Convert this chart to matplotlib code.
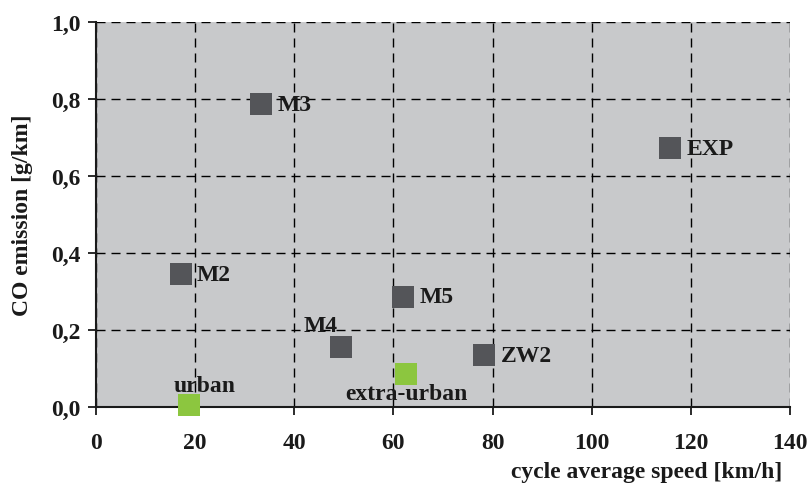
import matplotlib

matplotlib.use("Agg")
import matplotlib.pyplot as plt
from matplotlib.ticker import FuncFormatter

# cycles
cycles = ["M3", "EXP", "M2", "M5", "M4", "ZW2"]
cycle_speed = [33.3, 115.8, 17.1, 61.9, 49.5, 78.3]
cycle_co = [0.786, 0.672, 0.345, 0.286, 0.155, 0.135]

# test cycles (green)
tests = ["urban", "extra-urban"]
test_speed = [18.8, 62.6]
test_co = [0.005, 0.086]

x_ticks = [0, 20, 40, 60, 80, 100, 120, 140]
y_ticks = [0.0, 0.2, 0.4, 0.6, 0.8, 1.0]

# label offsets in points (dx, dy, ha)
cycle_offsets = {
    "M3": (12, 0, "left"),
    "EXP": (12, 0, "left"),
    "M2": (11.5, 0, "left"),
    "M5": (12, 0, "left"),
    "M4": (-15, 15.5, "center"),
    "ZW2": (12, 0, "left"),
}
test_offsets = {
    "urban": (11, 14, "center"),
    "extra-urban": (0, -14, "center"),
}

plt.rcParams["font.family"] = ["Liberation Serif", "DejaVu Serif"]
plt.rcParams["font.weight"] = "bold"

dark = "#545559"
green = "#8cc63f"
ink = "#1a1a1a"
fs = 17

fig = plt.figure(figsize=(8.11, 4.89), dpi=100)
ax = fig.add_axes([96 / 811, 81 / 489, 694 / 811, 385 / 489])
ax.set_facecolor("#c8c9cb")

ax.set_xlim(0, 140)
ax.set_ylim(0, 1.0)
ax.set_xticks(x_ticks)
ax.set_yticks(y_ticks)
ax.yaxis.set_major_formatter(FuncFormatter(lambda v, _: f"{v:.1f}".replace(".", ",")))

ax.grid(True, color="black", linestyle=(0, (6.5, 4.3)), linewidth=1.0)
ax.set_axisbelow(True)

for side in ("top", "right"):
    ax.spines[side].set_visible(False)
for side in ("left", "bottom"):
    ax.spines[side].set_linewidth(1.5)
    ax.spines[side].set_color(ink)

ax.tick_params(axis="both", direction="out", length=6, width=1.3, labelsize=fs, colors=ink)
ax.tick_params(axis="x", pad=12)
ax.tick_params(axis="y", pad=5)

ax.plot(cycle_speed, cycle_co, linestyle="none", marker="s", markersize=16.3,
        markeredgewidth=0, color=dark, clip_on=False, zorder=3)
ax.plot(test_speed, test_co, linestyle="none", marker="s", markersize=16.3,
        markeredgewidth=0, color=green, clip_on=False, zorder=3)

for name, xv, yv in zip(cycles, cycle_speed, cycle_co):
    dx, dy, ha = cycle_offsets[name]
    ax.annotate(name, (xv, yv), xytext=(dx, dy), textcoords="offset points",
                ha=ha, va="center", fontsize=fs, fontweight="bold", color=ink, zorder=4)
for name, xv, yv in zip(tests, test_speed, test_co):
    dx, dy, ha = test_offsets[name]
    ax.annotate(name, (xv, yv), xytext=(dx, dy), textcoords="offset points",
                ha=ha, va="center", fontsize=fs, fontweight="bold", color=ink, zorder=4)

ax.set_xlabel("cycle average speed [km/h]", fontsize=fs, fontweight="bold", color=ink)
ax.xaxis.set_label_coords(1.0 - 8 / 694, -54 / 385)
ax.xaxis.label.set_ha("right")
ax.set_ylabel("CO emission [g/km]", fontsize=fs, fontweight="bold", color=ink)
ax.yaxis.set_label_coords(-63 / 694, 0.5)

fig.savefig("out.png", dpi=100)
